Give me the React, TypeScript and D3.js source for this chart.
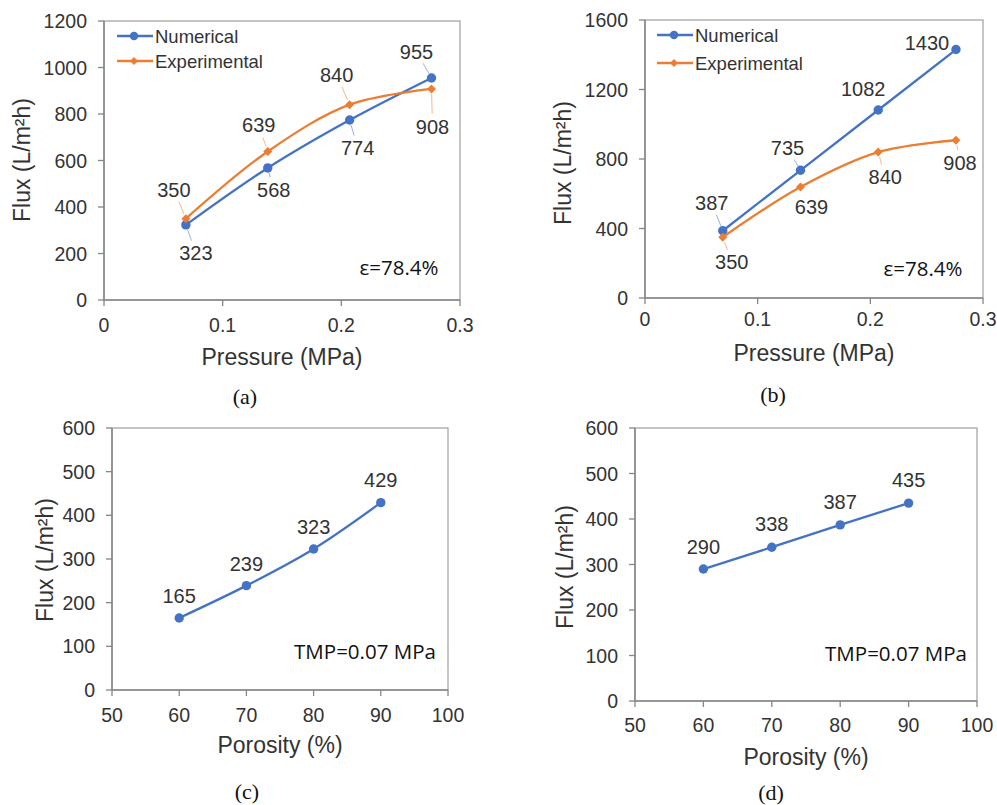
import React from "react";
import * as d3 from "d3";

// ---------- data ----------
const pressure = [0.069, 0.138, 0.207, 0.276];
const numericalA = [323, 568, 774, 955];
const experimentalA = [350, 639, 840, 908];
const numericalB = [387, 735, 1082, 1430];
const experimentalB = [350, 639, 840, 908];
const porosity = [60, 70, 80, 90];
const fluxC = [165, 239, 323, 429];
const fluxD = [290, 338, 387, 435];

const pressureTicks = [0, 0.1, 0.2, 0.3];
const fluxTicksA = [0, 200, 400, 600, 800, 1000, 1200];
const fluxTicksB = [0, 400, 800, 1200, 1600];
const fluxTicksCD = [0, 100, 200, 300, 400, 500, 600];
const porosityTicks = [50, 60, 70, 80, 90, 100];

const BLUE = "#4472C4";
const ORANGE = "#ED7D31";
const TXT = "#333333";
const SANS = "'Liberation Sans', Arial, sans-serif";

type Series = {
  name: string;
  xs: number[];
  ys: number[];
  color: string;
  marker: "circle" | "diamond";
  smooth: boolean;
  offsets: [number, number][];
  leaders: boolean[];
};

type PanelProps = {
  x0: number; x1: number; y0: number; y1: number;
  xDomain: [number, number]; yDomain: [number, number];
  xTicks: number[]; yTicks: number[];
  xTickDy: number; xTitle: string; xTitleDy: number;
  yTitleX: number; yTitleY: number;
  series: Series[];
  legend?: { x: number; y: number; gap: number };
  note: string; noteX: number; noteY: number;
  caption: string; captionX: number; captionY: number;
};

function Marker({ type, cx, cy, color, size = 1 }: any) {
  if (type === "circle") return <circle cx={cx} cy={cy} r={4.7 * size} fill={color} />;
  const s = 4.5 * size;
  return (
    <path
      d={`M${cx},${cy - s}L${cx + s},${cy}L${cx},${cy + s}L${cx - s},${cy}Z`}
      fill={color}
    />
  );
}

function Panel(p: PanelProps) {
  const x = d3.scaleLinear().domain(p.xDomain).range([p.x0, p.x1]);
  const y = d3.scaleLinear().domain(p.yDomain).range([p.y1, p.y0]);
  const fmtX = (v: number) => String(v);
  return (
    <g>
      {/* frame */}
      <rect x={p.x0} y={p.y0} width={p.x1 - p.x0} height={p.y1 - p.y0}
        fill="none" stroke="#a6a6a6" strokeWidth={1.3} />
      <line x1={p.x0} x2={p.x0} y1={p.y0} y2={p.y1} stroke="#868686" strokeWidth={1.5} />
      <line x1={p.x0} x2={p.x1} y1={p.y1} y2={p.y1} stroke="#868686" strokeWidth={1.5} />
      {/* y ticks */}
      {p.yTicks.map((t) => (
        <g key={"y" + t}>
          <line x1={p.x0 - 6} x2={p.x0} y1={y(t)} y2={y(t)} stroke="#868686" strokeWidth={1.3} />
          <text x={p.x0 - 17} y={y(t)} textAnchor="end" dominantBaseline="central"
            fontFamily={SANS} fontSize={19.5} fill={TXT}>{t}</text>
        </g>
      ))}
      {/* x ticks */}
      {p.xTicks.map((t) => (
        <g key={"x" + t}>
          <line x1={x(t)} x2={x(t)} y1={p.y1} y2={p.y1 + 6} stroke="#868686" strokeWidth={1.3} />
          <text x={x(t)} y={p.y1 + p.xTickDy} textAnchor="middle" dominantBaseline="central"
            fontFamily={SANS} fontSize={19.5} fill={TXT}>{fmtX(t)}</text>
        </g>
      ))}
      {/* titles */}
      <text x={(p.x0 + p.x1) / 2} y={p.y1 + p.xTitleDy} textAnchor="middle" dominantBaseline="central"
        fontFamily={SANS} fontSize={23} fill={TXT}>{p.xTitle}</text>
      <text transform={`translate(${p.yTitleX},${p.yTitleY}) rotate(-90)`} textAnchor="middle"
        dominantBaseline="central" fontFamily={SANS} fontSize={23} fill={TXT}>Flux (L/m²h)</text>
      {/* series */}
      {p.series.map((s) => {
        const pts: [number, number][] = s.xs.map((v, i) => [x(v), y(s.ys[i])]);
        const line = d3.line().curve(s.smooth ? d3.curveCatmullRom.alpha(0.5) : d3.curveLinear);
        return (
          <g key={s.name}>
            <path d={line(pts) || ""} fill="none" stroke={s.color} strokeWidth={2.3} />
            {pts.map(([px, py], i) => {
              const [dx, dy] = s.offsets[i];
              const len = Math.hypot(dx, dy);
              const ux = dx / len, uy = dy / len;
              return (
                <g key={i}>
                  {s.leaders[i] && (
                    <line x1={px + ux * 5} y1={py + uy * 5} x2={px + ux * (len - 13)} y2={py + uy * (len - 13)}
                      stroke={s.color} strokeOpacity={0.55} strokeWidth={1} />
                  )}
                  <Marker type={s.marker} cx={px} cy={py} color={s.color} />
                  <text x={px + dx} y={py + dy} textAnchor="middle" dominantBaseline="central"
                    fontFamily={SANS} fontSize={20} fill={TXT}>{s.ys[i]}</text>
                </g>
              );
            })}
          </g>
        );
      })}
      {/* legend */}
      {p.legend && p.series.map((s, i) => {
        const ly = p.legend!.y + i * p.legend!.gap;
        return (
          <g key={"lg" + s.name}>
            <line x1={p.legend!.x} x2={p.legend!.x + 36} y1={ly} y2={ly} stroke={s.color} strokeWidth={2.3} />
            <Marker type={s.marker} cx={p.legend!.x + 17} cy={ly} color={s.color} size={0.9} />
            <text x={p.legend!.x + 38} y={ly} dominantBaseline="central" fontFamily={SANS}
              fontSize={18.5} fill={TXT}>{s.name}</text>
          </g>
        );
      })}
      <text x={p.noteX} y={p.noteY} textAnchor="middle" dominantBaseline="central"
        fontFamily="'Open Sans', 'Noto Sans', sans-serif" fontSize={20.5} fill="#111">{p.note}</text>
      <text x={p.captionX} y={p.captionY} textAnchor="middle" dominantBaseline="central"
        fontFamily="'Liberation Serif', 'Times New Roman', serif" fontSize={22} fill="#111">{p.caption}</text>
    </g>
  );
}

export default function App() {
  return (
    <div style={{ position: "absolute", left: 0, top: 0 }}>
      <svg width={997} height={805} style={{ display: "block", background: "#fff" }}>
        <Panel
          x0={104} x1={460} y0={21} y1={300}
          xDomain={[0, 0.3]} yDomain={[0, 1200]}
          xTicks={pressureTicks} yTicks={fluxTicksA}
          xTickDy={25} xTitle="Pressure (MPa)" xTitleDy={57}
          yTitleX={22} yTitleY={160}
          series={[
            { name: "Numerical", xs: pressure, ys: numericalA, color: BLUE, marker: "circle", smooth: true,
              offsets: [[10, 28], [6, 22], [8, 28], [-15, -26]], leaders: [true, true, true, true] },
            { name: "Experimental", xs: pressure, ys: experimentalA, color: ORANGE, marker: "diamond", smooth: true,
              offsets: [[-12, -29], [-9, -26], [-13, -30], [1, 38]], leaders: [true, true, true, true] },
          ]}
          legend={{ x: 117, y: 36, gap: 25 }}
          note="ε=78.4%" noteX={399} noteY={267}
          caption="(a)" captionX={245} captionY={396}
        />
        <Panel
          x0={645} x1={983} y0={20} y1={298}
          xDomain={[0, 0.3]} yDomain={[0, 1600]}
          xTicks={pressureTicks} yTicks={fluxTicksB}
          xTickDy={21} xTitle="Pressure (MPa)" xTitleDy={55}
          yTitleX={563} yTitleY={163}
          series={[
            { name: "Numerical", xs: pressure, ys: numericalB, color: BLUE, marker: "circle", smooth: false,
              offsets: [[-11, -28], [-13, -22], [-15, -21], [-29, -7]], leaders: [true, true, false, false] },
            { name: "Experimental", xs: pressure, ys: experimentalB, color: ORANGE, marker: "diamond", smooth: true,
              offsets: [[9, 25], [11, 20], [7, 25], [4, 23]], leaders: [true, false, true, true] },
          ]}
          legend={{ x: 657, y: 35, gap: 28 }}
          note="ε=78.4%" noteX={923} noteY={268}
          caption="(b)" captionX={773} captionY={394}
        />
        <Panel
          x0={112} x1={448} y0={428} y1={690}
          xDomain={[50, 100]} yDomain={[0, 600]}
          xTicks={porosityTicks} yTicks={fluxTicksCD}
          xTickDy={25} xTitle="Porosity (%)" xTitleDy={55}
          yTitleX={45} yTitleY={560}
          series={[
            { name: "Numerical", xs: porosity, ys: fluxC, color: BLUE, marker: "circle", smooth: true,
              offsets: [[0, -22], [0, -22], [0, -22], [0, -23]], leaders: [false, false, false, false] },
          ]}
          note="TMP=0.07 MPa" noteX={365} noteY={651}
          caption="(c)" captionX={247} captionY={791}
        />
        <Panel
          x0={635} x1={977} y0={428} y1={701}
          xDomain={[50, 100]} yDomain={[0, 600]}
          xTicks={porosityTicks} yTicks={fluxTicksCD}
          xTickDy={24} xTitle="Porosity (%)" xTitleDy={56}
          yTitleX={565} yTitleY={567}
          series={[
            { name: "Numerical", xs: porosity, ys: fluxD, color: BLUE, marker: "circle", smooth: false,
              offsets: [[0, -22], [0, -23], [0, -23], [0, -23]], leaders: [false, false, false, false] },
          ]}
          note="TMP=0.07 MPa" noteX={896} noteY={653}
          caption="(d)" captionX={771} captionY={792}
        />
      </svg>
    </div>
  );
}
